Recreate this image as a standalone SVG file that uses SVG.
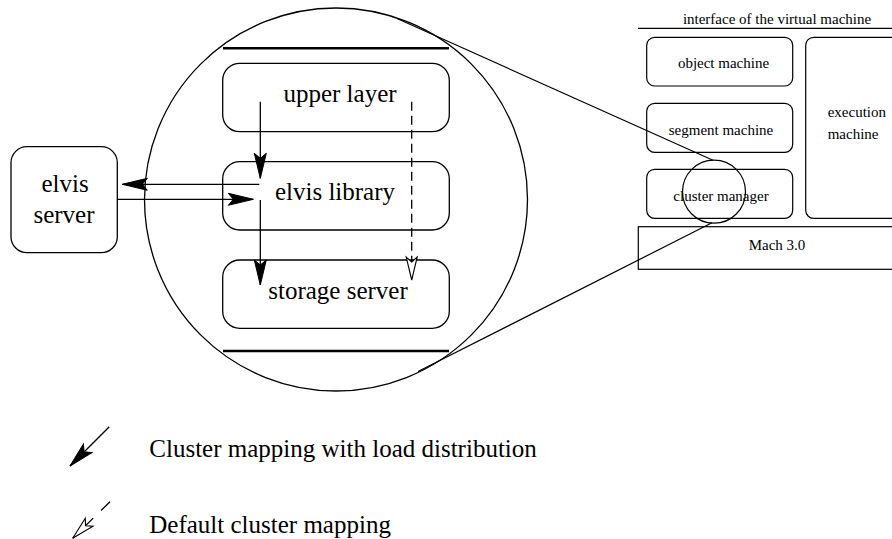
<svg xmlns="http://www.w3.org/2000/svg" width="892" height="539" viewBox="0 0 892 539">
  <style>
    .box { fill: none; stroke: #000; stroke-width: 1.3; }
    .thin { fill: none; stroke: #000; stroke-width: 1.2; }
    .bar { stroke: #000; stroke-width: 2.6; }
    .big { font-size: 25px; fill: #000; }
    .small { font-size: 15px; fill: #000; }
    .mid { text-anchor: middle; }
    .conn { fill: none; stroke: #000; stroke-width: 1.3; }
    .dash { stroke-dasharray: 9 5; }
  </style>
  <defs>
    <marker id="solidHead" markerUnits="userSpaceOnUse" markerWidth="30" markerHeight="16" viewBox="-27 -8 30 16" refX="0" refY="0" orient="auto" overflow="visible">
      <path d="M0,0 L-25,-6 L-20,0 L-25,6 Z" fill="#000" stroke="#000" stroke-width="1" stroke-linejoin="miter"/>
    </marker>
    <marker id="openHead" markerUnits="userSpaceOnUse" markerWidth="30" markerHeight="16" viewBox="-27 -8 30 16" refX="0" refY="0" orient="auto" overflow="visible">
      <path d="M0,0 L-23,-5.5 L-18,0 L-23,5.5 Z" fill="#fff" stroke="#000" stroke-width="1.1" stroke-dasharray="none"/>
    </marker>
  </defs>

  <g font-family="'Liberation Serif', 'DejaVu Serif', serif">
  <!-- magnifying circle with its layer stack -->
  <g id="zoom-circle">
    <circle cx="336" cy="199.5" r="191.5" class="box"/>
    <line x1="223" y1="48.3" x2="449" y2="48.3" class="bar"/>
    <line x1="223" y1="351" x2="449" y2="351" class="bar"/>
  </g>

  <g id="upper-layer">
    <rect x="222.7" y="63.3" width="226.6" height="68.4" rx="17" class="box"/>
    <text x="340" y="102" class="big mid">upper layer</text>
  </g>
  <g id="elvis-library">
    <rect x="222.7" y="161.7" width="226.6" height="68.3" rx="17" class="box"/>
    <text x="335" y="199.5" class="big mid">elvis library</text>
  </g>
  <g id="storage-server">
    <rect x="222.7" y="260" width="226.6" height="68.3" rx="17" class="box"/>
    <text x="338" y="298.5" class="big mid">storage server</text>
  </g>

  <g id="elvis-server">
    <rect x="11" y="146.7" width="106.3" height="106" rx="16" class="box"/>
    <text x="65" y="191.7" class="big mid">elvis</text>
    <text x="64" y="222.7" class="big mid">server</text>
  </g>

  <!-- virtual machine overview -->
  <g id="vm-interface">
    <text x="777" y="24" class="small mid">interface of the virtual machine</text>
    <line x1="638" y1="28.3" x2="892" y2="28.3" class="thin"/>
  </g>
  <g id="object-machine">
    <rect x="646.7" y="37.3" width="146" height="48.7" rx="8" class="thin"/>
    <text x="723.5" y="68" class="small mid">object machine</text>
  </g>
  <g id="segment-machine">
    <rect x="646.7" y="103.3" width="146" height="49" rx="8" class="thin"/>
    <text x="721" y="135" class="small mid">segment machine</text>
  </g>
  <g id="cluster-manager">
    <rect x="646.7" y="169.3" width="146" height="49" rx="8" class="thin"/>
    <text x="721" y="201" class="small mid">cluster manager</text>
  </g>
  <g id="execution-machine">
    <rect x="805.7" y="37.3" width="110" height="181" rx="8" class="thin"/>
    <text x="827.7" y="116.7" class="small">execution</text>
    <text x="827.7" y="139" class="small">machine</text>
  </g>
  <g id="mach">
    <rect x="638.3" y="226.7" width="270" height="42.6" class="thin"/>
    <text x="777" y="250" class="small mid">Mach 3.0</text>
  </g>
  <g id="focus-circle">
    <circle cx="714" cy="191.7" r="31.5" class="thin"/>
  </g>

  <g id="connectors">
    <!-- magnification lines -->
    <line x1="397" y1="18.5" x2="713" y2="160.3" class="thin"/>
    <line x1="418" y1="371.5" x2="712" y2="222.8" class="thin"/>
    <!-- cluster mapping with load distribution -->
    <line x1="260.3" y1="101.7" x2="260.3" y2="178.3" class="conn" marker-end="url(#solidHead)"/>
    <line x1="260.3" y1="200" x2="260.3" y2="285" class="conn" marker-end="url(#solidHead)"/>
    <!-- default cluster mapping -->
    <line x1="411.7" y1="101.7" x2="411.7" y2="280" class="conn dash" marker-end="url(#openHead)"/>
    <!-- elvis library <-> elvis server -->
    <line x1="259.3" y1="184.3" x2="122.3" y2="184.3" class="conn" marker-end="url(#solidHead)"/>
    <line x1="117.3" y1="199.3" x2="253.3" y2="199.3" class="conn" marker-end="url(#solidHead)"/>
  </g>

  <!-- legend -->
  <g id="legend">
    <line x1="109.3" y1="426.7" x2="70" y2="466" class="conn" marker-end="url(#solidHead)"/>
    <text x="149.3" y="456.7" class="big">Cluster mapping with load distribution</text>
    <line x1="110" y1="501.7" x2="72.7" y2="538.3" class="conn" stroke-dasharray="12.5 11 40" marker-end="url(#openHead)"/>
    <text x="149.3" y="533.3" class="big">Default cluster mapping</text>
  </g>
  </g>
</svg>
